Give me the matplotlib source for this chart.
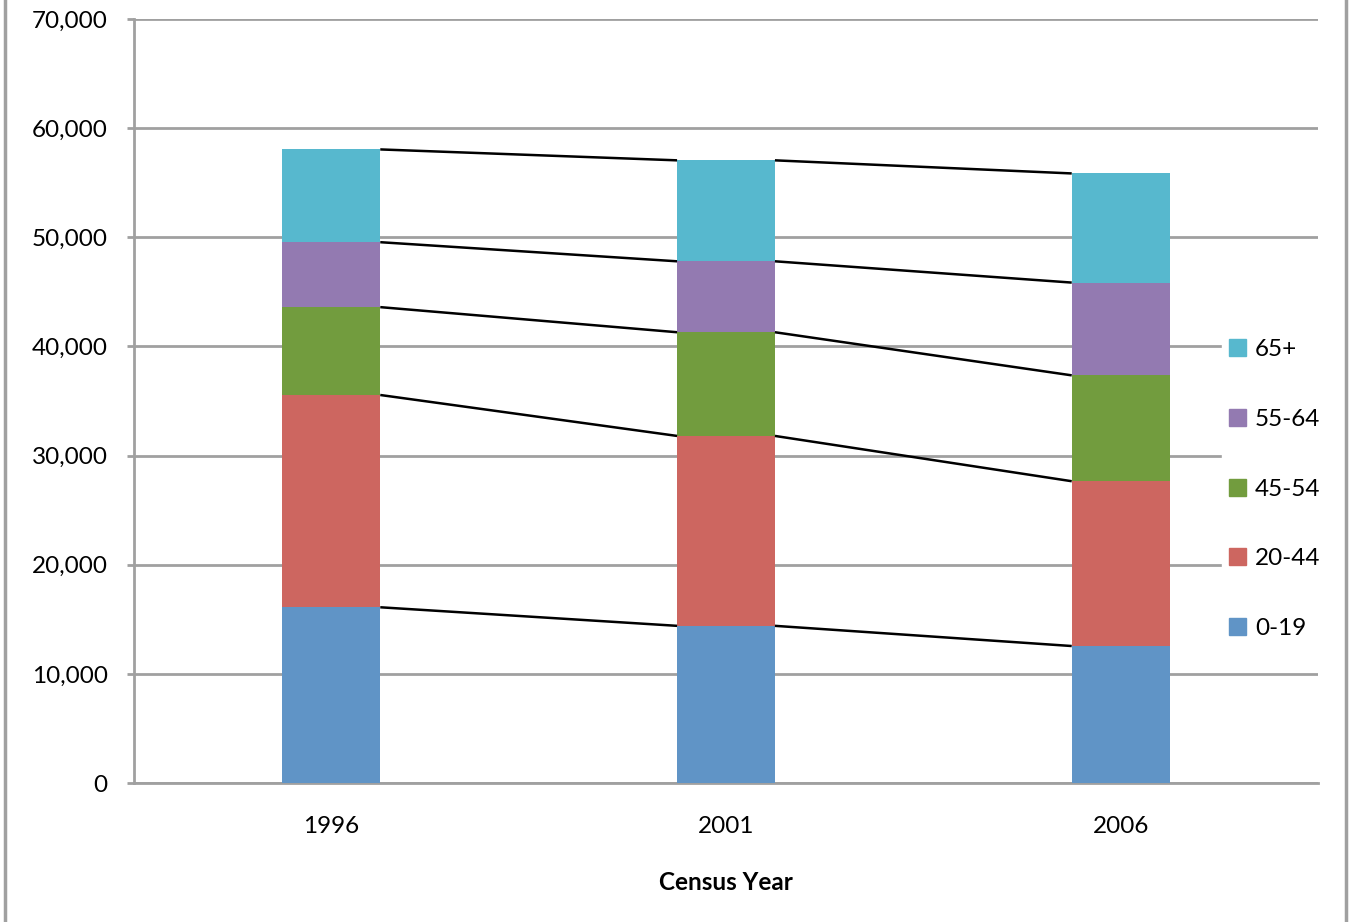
import numpy as np
import matplotlib.pyplot as plt
from matplotlib.ticker import FuncFormatter
from matplotlib.lines import Line2D

years = ['1996', '2001', '2006']
groups = ['0-19', '20-44', '45-54', '55-64', '65+']
age_0_19 = [16100, 14400, 12550]
age_20_44 = [19450, 17400, 15100]
age_45_54 = [8050, 9500, 9700]
age_55_64 = [5950, 6500, 8500]
age_65_up = [8500, 9250, 10000]
colors = ['#6094C6', '#CD6660', '#729C3E', '#937AB1', '#57B8CE']

plt.rcParams['font.family'] = ['Lato', 'DejaVu Sans']

fig = plt.figure(figsize=(13.49, 9.22), dpi=100)
ax = fig.add_axes([134 / 1349, 1 - 783 / 922, (1318 - 134) / 1349, (783 - 19) / 922])

x = np.arange(len(years))
w = 0.248
series = [age_0_19, age_20_44, age_45_54, age_55_64, age_65_up]
bottom = np.zeros(len(years))
handles = []
for vals, c, name in zip(series, colors, groups):
    vals = np.array(vals, dtype=float)
    ax.bar(x, vals, w, bottom=bottom, color=c, zorder=3, label=name)
    top = bottom + vals
    # connector lines between the tops of neighbouring bars
    for i in range(len(years) - 1):
        ax.plot([x[i] + w / 2, x[i + 1] - w / 2], [top[i], top[i + 1]],
                color='black', lw=1.8, zorder=4, solid_capstyle='butt')
    bottom = top
    handles.append(plt.Rectangle((0, 0), 1, 1, color=c))

ax.set_xlim(-0.5, 2.5)
ax.set_ylim(0, 70000)
ax.set_yticks(np.arange(0, 70001, 10000))
ax.yaxis.set_major_formatter(FuncFormatter(lambda v, p: f'{int(v):,}'))
ax.set_xticks(x)
ax.set_xticklabels(years)
ax.grid(axis='y', color='#A0A0A0', lw=2, zorder=0)
for s in ['top', 'right']:
    ax.spines[s].set_visible(False)
for s in ['left', 'bottom']:
    ax.spines[s].set_color('#A0A0A0')
    ax.spines[s].set_linewidth(2)
ax.tick_params(axis='y', length=5, width=2, color='#A0A0A0', labelsize=17.5, pad=14)
ax.tick_params(axis='x', length=0, labelsize=17.5, pad=24)
ax.set_xlabel('Census Year', fontsize=17.5, fontweight='bold', labelpad=24)

leg = fig.legend(handles[::-1], groups[::-1], loc='upper left',
                 bbox_to_anchor=(1222 / 1349, 1 - 332 / 922), frameon=True,
                 fontsize=17.5, handlelength=0.7, handleheight=0.7,
                 handletextpad=0.35, labelspacing=2.0, borderpad=0.3,
                 borderaxespad=0)
leg.get_frame().set_facecolor('white')
leg.get_frame().set_edgecolor('white')
leg.get_frame().set_alpha(1)

# outer chart border
fig.add_artist(Line2D([5 / 1349, 5 / 1349], [0, 1], color='#A0A0A0', lw=2.5))
fig.add_artist(Line2D([1346 / 1349, 1346 / 1349], [0, 1], color='#A0A0A0', lw=2.5))

fig.savefig('out.png', dpi=100)
